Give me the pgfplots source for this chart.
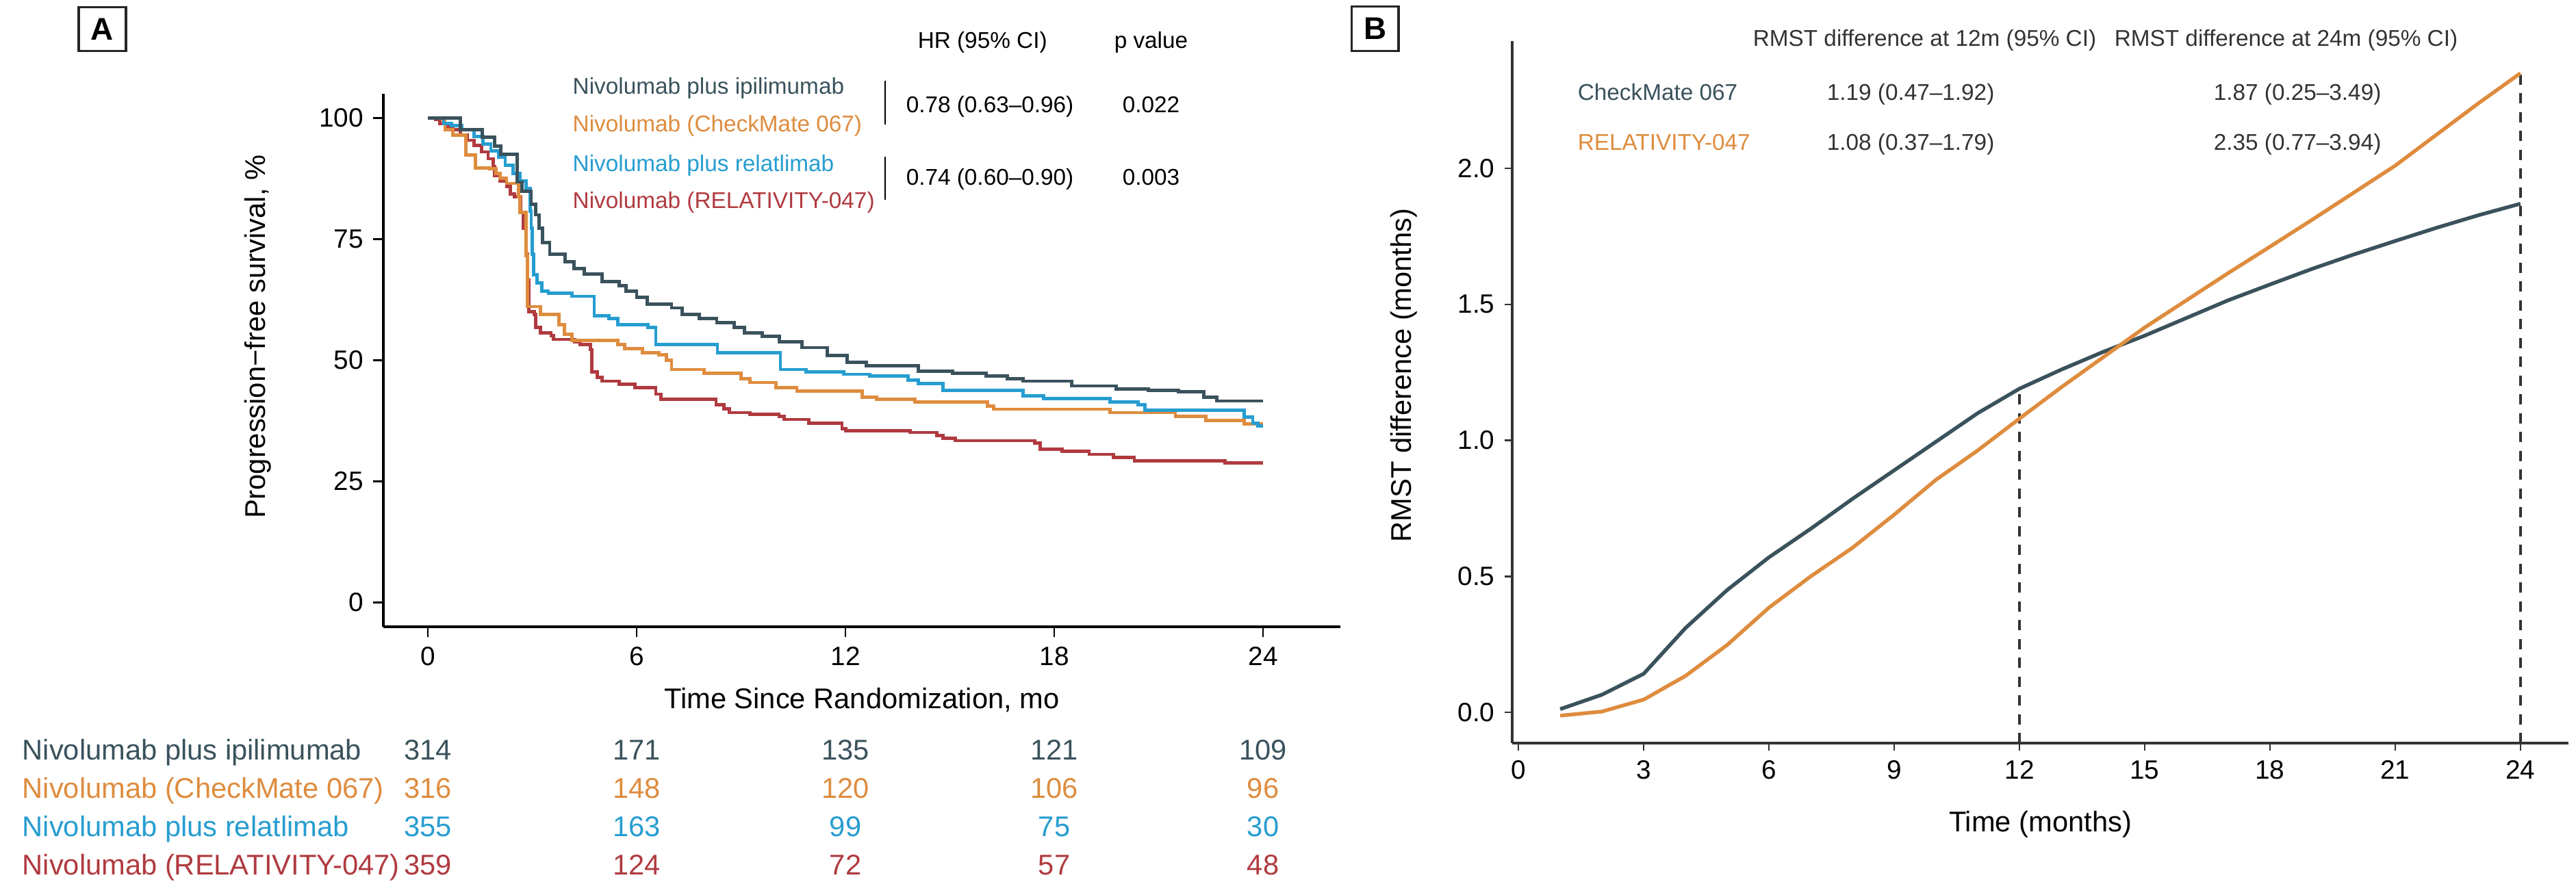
\documentclass[border=0pt]{standalone}
\usepackage{fontspec}
\setmainfont{Liberation Sans}
\usepackage{pgfplots}
\pgfplotsset{compat=1.18}

\definecolor{cdark}{HTML}{3A525C}
\definecolor{corange}{HTML}{DE8C3E}
\definecolor{cblue}{HTML}{269DD0}
\definecolor{cred}{HTML}{B03A3F}
\definecolor{axgray}{HTML}{333333}

\newcommand{\fs}[1]{\fontsize{#1}{#1}\selectfont}

% Kaplan-Meier curves: (time of step, survival after step)
\pgfplotstableread{
t s
0 100
0.94 97.6
1.57 96.0
1.92 94.2
2.10 92.5
2.56 86.8
2.71 84.9
2.97 82.2
3.10 80.0
3.20 77.3
3.30 74.3
3.50 71.9
3.95 70.3
4.20 68.9
4.50 67.8
5.00 66.2
5.50 65.4
5.70 64.3
6.00 63.0
6.30 61.6
7.00 60.8
7.30 59.5
7.80 58.6
8.30 57.8
8.80 56.8
9.10 55.7
9.60 54.9
10.10 53.8
10.75 52.6
11.47 51.0
12.04 49.6
12.60 48.9
14.10 47.7
15.07 47.3
16.04 46.8
16.65 46.2
17.10 45.7
18.50 44.7
19.77 44.1
20.70 43.8
21.57 43.5
22.30 42.4
22.67 41.6
24.00 41.6
}\ipi

\pgfplotstableread{
t s
0 100
0.41 99.7
0.49 97.6
0.72 96.5
1.09 92.4
1.36 89.7
1.77 89.5
1.96 88.6
2.07 87.6
2.26 86.5
2.60 83.8
2.64 80.5
2.82 71.6
2.86 61.1
3.24 59.5
3.77 57.3
3.92 55.4
4.14 54.1
5.46 53.2
5.65 52.4
6.17 51.6
6.63 51.1
6.85 50.0
7.00 48.1
7.94 47.3
9.00 46.2
9.26 45.4
10.00 44.3
10.60 43.6
12.48 42.4
12.90 42.0
14.00 41.4
16.08 40.5
16.26 39.9
19.60 39.2
21.48 38.4
22.36 37.6
23.46 36.9
24.00 36.9
}\cmnivo

\pgfplotstableread{
t s
0 100
0.45 98.9
0.68 98.4
0.98 97.6
1.32 96.2
1.58 94.6
1.81 93.2
2.03 91.9
2.22 90.3
2.45 88.6
2.64 87.0
2.82 85.4
2.94 80.8
2.97 77.3
3.00 71.9
3.03 67.6
3.13 66.0
3.28 64.3
3.46 63.8
4.14 63.2
4.78 59.2
5.20 58.6
5.46 57.3
6.33 56.8
6.55 53.2
8.32 51.6
10.13 48.1
10.86 47.6
11.95 47.1
12.70 46.8
13.80 45.9
14.10 45.2
14.80 43.8
17.10 42.7
17.70 42.1
19.60 41.4
20.40 40.8
20.60 39.7
23.46 38.3
23.70 37.0
23.85 36.4
24.00 36.4
}\rela

\pgfplotstableread{
t s
0 100
0.23 99.7
0.34 98.9
0.53 98.1
0.72 97.6
0.94 96.5
1.13 95.4
1.32 94.3
1.54 93.0
1.73 91.6
1.88 90.0
1.92 88.1
2.07 87.0
2.26 85.9
2.37 84.3
2.48 83.8
2.67 80.5
2.75 77.3
2.82 71.9
2.86 66.5
2.90 60.0
3.05 59.5
3.09 56.8
3.24 55.7
3.54 55.1
3.61 54.3
4.22 53.8
4.37 53.2
4.67 52.2
4.71 47.6
4.86 46.5
5.01 45.7
5.50 45.1
5.95 44.3
6.55 43.0
6.70 41.9
8.28 40.8
8.51 40.0
8.66 39.2
9.26 38.9
10.09 38.4
10.24 37.8
10.95 37.0
11.90 35.9
12.00 35.5
13.85 35.1
14.63 34.5
14.80 33.9
15.16 33.4
17.44 32.9
17.60 31.7
18.23 31.2
19.00 30.6
19.70 30.0
20.30 29.3
22.90 28.8
24.00 28.8
}\relnivo

% RMST difference by month
\pgfplotstableread{
t cm rel
1 0.012 -0.012
2 0.065 0.003
3 0.142 0.047
4 0.310 0.134
5 0.450 0.248
6 0.570 0.385
7 0.675 0.500
8 0.785 0.605
9 0.890 0.727
10 0.995 0.855
11 1.100 0.963
12 1.190 1.080
13 1.260 1.195
14 1.325 1.305
15 1.385 1.415
16 1.450 1.515
17 1.515 1.615
18 1.573 1.712
19 1.630 1.810
20 1.683 1.910
21 1.733 2.010
22 1.782 2.125
23 1.828 2.240
24 1.870 2.350
}\rmst

\begin{document}
\begin{tikzpicture}
\path[use as bounding box] (0,0) rectangle (903.12pt,309.12pt);

% ---- panel A: PFS ----
\begin{axis}[
  at={(134.4pt,89.28pt)}, anchor=south west, scale only axis,
  width=335.52pt, height=186.96pt,
  xmin=-1.28, xmax=26.22, ymin=-5, ymax=105,
  axis lines*=left,
  axis line style={line width=0.9pt, black},
  xtick={0,6,12,18,24}, ytick={0,25,50,75,100},
  tick align=outside, major tick length=3.5pt,
  tick style={line width=0.6pt, black},
  ticklabel style={font=\fs{9.3}},
  /pgf/number format/assume math mode=true,
  xlabel={Time Since Randomization, mo},
  xlabel style={at={(rel axis cs:0.5,-0.137)}, anchor=center, font=\fs{10}},
  ylabel={Progression−free survival, \%},
  ylabel style={at={(rel axis cs:-0.131,0.544)}, anchor=center, font=\fs{10}},
]
\addplot[const plot, cred, line width=1.15pt] table[x=t, y=s] {\relnivo};
\addplot[const plot, corange, line width=1.15pt] table[x=t, y=s] {\cmnivo};
\addplot[const plot, cblue, line width=1.15pt] table[x=t, y=s] {\rela};
\addplot[const plot, cdark, line width=1.15pt] table[x=t, y=s] {\ipi};
\end{axis}

% ---- panel B: RMST difference ----
\begin{axis}[
  at={(530.16pt,48.48pt)}, anchor=south west, scale only axis,
  width=370.32pt, height=246.24pt,
  xmin=-0.15, xmax=25.15, ymin=-0.113, ymax=2.468,
  axis lines*=left,
  axis line style={line width=0.9pt, axgray},
  xtick={0,3,...,24}, ytick={0,0.5,1,1.5,2},
  tick align=outside, major tick length=2.6pt,
  tick style={line width=0.6pt, axgray},
  ticklabel style={font=\fs{9.3}},
  yticklabel style={/pgf/number format/.cd, fixed, fixed zerofill, precision=1},
  /pgf/number format/assume math mode=true,
  xlabel={Time (months)},
  xlabel style={at={(rel axis cs:0.5,-0.116)}, anchor=center, font=\fs{10}},
  ylabel={RMST difference (months)},
  ylabel style={at={(rel axis cs:-0.1024,0.524)}, anchor=center, font=\fs{10}},
]
\addplot[axgray, line width=0.8pt, dash pattern=on 3.6pt off 3pt] coordinates {(12,-0.113) (12,1.19)};
\addplot[axgray, line width=0.8pt, dash pattern=on 3.6pt off 3pt] coordinates {(24,-0.113) (24,2.35)};
\addplot[cdark, line width=1.3pt] table[x=t, y=cm] {\rmst};
\addplot[corange, line width=1.3pt] table[x=t, y=rel] {\rmst};
\end{axis}

% ---- annotations (pixel positions of the reference) ----
\begin{scope}[x=0.24pt, y=-0.24pt, yshift=309.12pt]
  % panel tags
  \node[draw=black!85, line width=0.8pt, minimum width=16.5pt, minimum height=15.5pt,
        inner sep=0pt, font=\bfseries\fs{11}] at (149.5,42.5) {A};
  \node[draw=black!85, line width=0.8pt, minimum width=16.5pt, minimum height=15.5pt,
        inner sep=0pt, font=\bfseries\fs{11}] at (2008.5,42) {B};

  % panel A legend and hazard ratios
  \begin{scope}[every node/.style={font=\fs{8}}]
    \node[anchor=base west] at (1326,70) {HR (95\% CI)};
    \node[anchor=base west] at (1613,70) {p value};
    \node[anchor=base west, text=cdark]   at (822,137) {Nivolumab plus ipilimumab};
    \node[anchor=base west, text=corange] at (822,192) {Nivolumab (CheckMate 067)};
    \node[anchor=base west, text=cblue]   at (822,250) {Nivolumab plus relatlimab};
    \node[anchor=base west, text=cred]    at (822,304) {Nivolumab (RELATIVITY-047)};
    \node[anchor=base west] at (1309,164) {0.78 (0.63–0.96)};
    \node[anchor=base west] at (1625,164) {0.022};
    \node[anchor=base west] at (1309,270) {0.74 (0.60–0.90)};
    \node[anchor=base west] at (1625,270) {0.003};
  \end{scope}
  \draw[line width=0.5pt] (1293,118) -- (1293,182);
  \draw[line width=0.5pt] (1293,229) -- (1293,292);

  % panel A number at risk
  \begin{scope}[every node/.style={font=\fs{10}}]
    \node[anchor=base west, text=cdark]   at (18,1110) {Nivolumab plus ipilimumab};
    \node[anchor=base west, text=corange] at (18,1166) {Nivolumab (CheckMate 067)};
    \node[anchor=base west, text=cblue]   at (18,1222) {Nivolumab plus relatlimab};
    \node[anchor=base west, text=cred]    at (18,1278) {Nivolumab (RELATIVITY-047)};
    \foreach \x/\a/\b/\c/\d in {625/314/316/355/359, 930/171/148/163/124,
        1235/135/120/99/72, 1540/121/106/75/57, 1845/109/96/30/48} {
      \node[anchor=base, text=cdark]   at (\x,1110) {\a};
      \node[anchor=base, text=corange] at (\x,1166) {\b};
      \node[anchor=base, text=cblue]   at (\x,1222) {\c};
      \node[anchor=base, text=cred]    at (\x,1278) {\d};
    }
  \end{scope}

  % panel B table
  \begin{scope}[every node/.style={font=\fs{8}, text=axgray}]
    \node[anchor=base west] at (2546,67) {RMST difference at 12m (95\% CI)};
    \node[anchor=base west] at (3074,67) {RMST difference at 24m (95\% CI)};
    \node[anchor=base west, text=cdark]   at (2290,146) {CheckMate 067};
    \node[anchor=base west, text=corange] at (2290,219) {RELATIVITY-047};
    \node[anchor=base west] at (2654,146) {1.19 (0.47–1.92)};
    \node[anchor=base west] at (2654,219) {1.08 (0.37–1.79)};
    \node[anchor=base west] at (3219,146) {1.87 (0.25–3.49)};
    \node[anchor=base west] at (3219,219) {2.35 (0.77–3.94)};
  \end{scope}
\end{scope}
\end{tikzpicture}
\end{document}
